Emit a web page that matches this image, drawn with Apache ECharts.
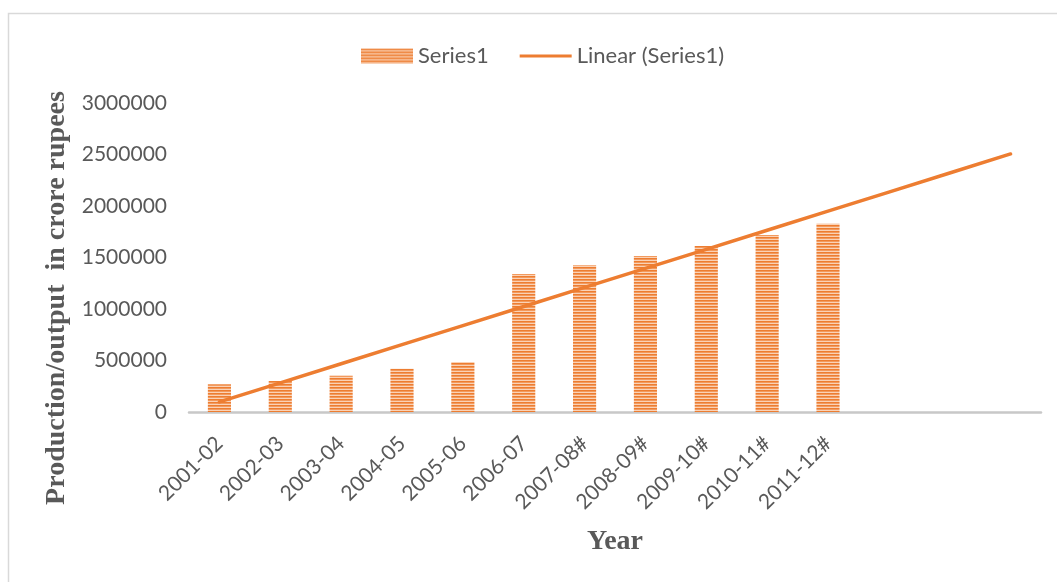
<!DOCTYPE html>
<html>
<head>
<meta charset="utf-8">
<script src="https://cdn.jsdelivr.net/npm/echarts@6/dist/echarts.min.js"></script>
<style>
  html, body { margin: 0; padding: 0; background: #fff; }
  #chart { width: 1057px; height: 582px; }
</style>
</head>
<body>
<div id="chart"></div>
<script>
// Years shown on the category axis
const years = ['2001-02', '2002-03', '2003-04', '2004-05', '2005-06', '2006-07',
               '2007-08#', '2008-09#', '2009-10#', '2010-11#', '2011-12#'];
// Production/output in crore rupees
const output = [269000, 301000, 352000, 420000, 485000, 1340000,
                1424000, 1515000, 1612000, 1718000, 1828000];
// Number of periods the linear trend is projected forward
const forecastPeriods = 3;
// Value axis ticks
const yTicks = { min: 0, max: 3000000, step: 500000 };

const ORANGE = '#ED7D31';
const TEXT = '#595959';

// Least-squares trend over the period index (1..n), extended forward
function linearTrend(values, extra) {
  const n = values.length;
  let sx = 0, sy = 0, sxx = 0, sxy = 0;
  values.forEach((v, i) => {
    const x = i + 1;
    sx += x; sy += v; sxx += x * x; sxy += x * v;
  });
  const slope = (n * sxy - sx * sy) / (n * sxx - sx * sx);
  const intercept = (sy - slope * sx) / n;
  const out = [];
  for (let i = 1; i <= n + extra; i++) out.push(intercept + slope * i);
  return out;
}

// Horizontal-stripe fill for the bars
function stripePattern() {
  const c = document.createElement('canvas');
  c.width = 4; c.height = 3;
  const g = c.getContext('2d');
  g.fillStyle = ORANGE;
  g.fillRect(0, 0, 4, 3);
  g.fillStyle = '#F29A5E';
  g.fillRect(0, 1, 4, 1);
  g.fillStyle = '#FAD2B6';
  g.fillRect(0, 2, 4, 1);
  return { image: c, repeat: 'repeat' };
}

const categories = years.concat(new Array(forecastPeriods).fill(''));
const trend = linearTrend(output, forecastPeriods);

const chart = echarts.init(document.getElementById('chart'), null, { renderer: 'canvas' });
chart.setOption({
  backgroundColor: '#fff',
  animation: false,
  textStyle: { fontFamily: 'Lato' },
  legend: {
    left: 356, top: 40,
    itemWidth: 52, itemHeight: 15, itemGap: 31,
    textStyle: { fontFamily: 'Lato', fontSize: 22, color: TEXT },
    data: [
      { name: 'Series1', icon: 'rect' },
      { name: 'Linear (Series1)', icon: 'path://M0,0h54v3.2h-54z' }
    ]
  },
  grid: { left: 189, right: 16, top: 103, bottom: 170, containLabel: false },
  xAxis: {
    type: 'category',
    data: categories,
    axisLine: { lineStyle: { color: '#C8C8C8', width: 2.5 } },
    axisTick: { show: false },
    axisLabel: {
      interval: 0, rotate: 45, margin: 28,
      fontFamily: 'Lato', fontSize: 21, color: TEXT
    }
  },
  yAxis: {
    type: 'value',
    min: yTicks.min, max: yTicks.max, interval: yTicks.step,
    axisLine: { show: false },
    axisTick: { show: false },
    splitLine: { show: false },
    axisLabel: {
      margin: 22, fontFamily: 'Lato', fontSize: 21, color: TEXT,
      formatter: v => String(v)
    }
  },
  series: [
    {
      name: 'Series1',
      type: 'bar',
      data: output,
      barCategoryGap: '62%',
      itemStyle: { color: stripePattern() }
    },
    {
      name: 'Linear (Series1)',
      type: 'line',
      data: trend,
      symbol: 'none',
      lineStyle: { color: ORANGE, width: 3.5, cap: 'round' },
      itemStyle: { color: ORANGE },
      z: 3
    }
  ],
  graphic: [
    {
      type: 'rect', silent: true,
      shape: { x: 8.5, y: 13.5, width: 1200, height: 700 },
      style: { fill: 'none', stroke: '#D9D9D9', lineWidth: 1.5 }
    },
    {
      type: 'text', x: 57, y: 298, rotation: Math.PI / 2,
      style: {
        text: 'Production/output  in crore rupees',
        font: 'bold 28px "Liberation Serif"',
        fill: TEXT, align: 'center', verticalAlign: 'middle'
      }
    },
    {
      type: 'text', x: 615, y: 542,
      style: {
        text: 'Year',
        font: 'bold 28px "Liberation Serif"',
        fill: TEXT, align: 'center', verticalAlign: 'middle'
      }
    }
  ]
});
</script>
</body>
</html>
